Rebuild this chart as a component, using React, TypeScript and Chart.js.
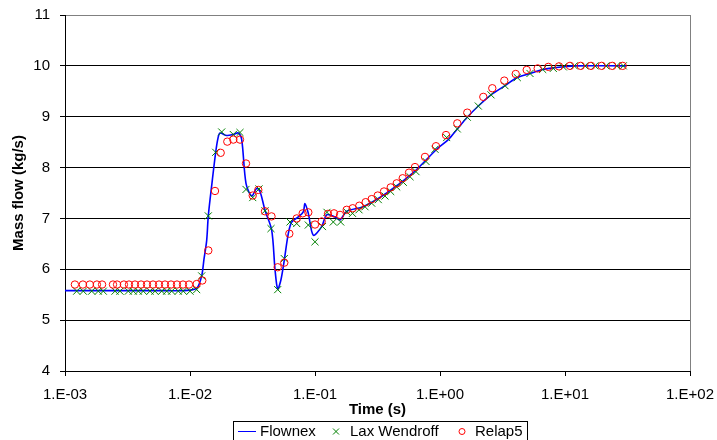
import React, { useEffect, useRef } from 'react';
import { Chart, registerables } from 'chart.js';

Chart.register(...registerables);

// ---- Data ----
const flownexTime = [
  0.001, 0.005, 0.009, 0.01, 0.01138, 0.0124, 0.01294, 0.0136, 0.01401, 0.015,
  0.01605, 0.01675, 0.01738, 0.01966, 0.0222, 0.02434, 0.02592, 0.02805, 0.03115, 0.03417,
  0.03631, 0.03981, 0.04503, 0.04786, 0.0503, 0.05346, 0.0568, 0.06114, 0.06511, 0.07353,
  0.08058, 0.08318, 0.0884, 0.09692, 0.1131, 0.124, 0.1445, 0.1585, 0.1794, 0.2434,
  0.3747, 0.6114, 0.941, 1.165, 1.375, 1.653, 2.025, 2.559, 3.311, 4.153,
  5.248, 6.63, 8.06, 9.69, 11.87, 30.76,
];
const flownexFlow = [
  5.58, 5.58, 5.58, 5.59, 5.63, 5.87, 6.2, 6.57, 7.05, 7.7,
  8.3, 8.58, 8.68, 8.63, 8.65, 8.68, 8.55, 7.69, 7.44, 7.59,
  7.53, 7.16, 6.77, 6.0, 5.61, 5.8, 6.18, 6.7, 6.93, 7.03,
  7.13, 7.29, 7.1, 6.67, 6.84, 7.07, 7.03, 6.97, 7.14, 7.23,
  7.5, 7.9, 8.36, 8.55, 8.76, 8.99, 9.21, 9.43, 9.61, 9.77,
  9.85, 9.93, 9.96, 9.98, 10.0, 10.0,
];

const laxTime = [
  0.00124, 0.001401, 0.001635, 0.001847, 0.002025, 0.002512, 0.002754, 0.003209, 0.003519, 0.003859,
  0.004231, 0.004786, 0.005248, 0.005937, 0.00651, 0.007138, 0.00806, 0.00884, 0.01, 0.01131,
  0.0124, 0.01401, 0.01605, 0.01793, 0.0222, 0.02512, 0.02805, 0.03175, 0.03565, 0.03981,
  0.04446, 0.0503, 0.0568, 0.0631, 0.0714, 0.0884, 0.1, 0.1148, 0.1247, 0.1401,
  0.1605, 0.1794, 0.1995, 0.2249, 0.2512, 0.2841, 0.3209, 0.3631, 0.4033, 0.4504,
  0.5086, 0.5754, 0.6427, 0.7727, 0.912, 1.131, 1.375, 1.653, 2.025, 2.559,
  3.311, 4.153, 5.248, 6.63, 8.06, 9.69, 11.87, 14.45, 17.38, 21.28,
  25.92, 29.27,
];
const laxFlow = [
  5.57, 5.57, 5.57, 5.57, 5.57, 5.57, 5.57, 5.57, 5.57, 5.57,
  5.57, 5.57, 5.57, 5.57, 5.57, 5.57, 5.57, 5.57, 5.57, 5.6,
  5.87, 7.05, 8.3, 8.7, 8.65, 8.69, 7.57, 7.41, 7.58, 7.15,
  6.8, 5.6, 6.21, 6.93, 6.9, 6.87, 6.54, 6.84, 7.12, 6.93,
  6.93, 7.13, 7.1, 7.17, 7.23, 7.3, 7.37, 7.44, 7.53, 7.62,
  7.71, 7.82, 7.92, 8.12, 8.36, 8.59, 8.76, 8.99, 9.21, 9.43,
  9.61, 9.77, 9.85, 9.93, 9.95, 9.98, 10.0, 10.0, 10.0, 10.0,
  10.0, 10.0,
];

const relapTime = [
  0.0012, 0.00139, 0.00158, 0.0018, 0.00198, 0.00242, 0.00261, 0.00296, 0.00325, 0.00363,
  0.00406, 0.00453, 0.00506, 0.00565, 0.00631, 0.00705, 0.00787, 0.00879, 0.00982, 0.01131,
  0.01254, 0.01401, 0.01585, 0.0176, 0.01988, 0.0222, 0.02512, 0.02805, 0.03175, 0.03519,
  0.03981, 0.04487, 0.0503, 0.0568, 0.0623, 0.0714, 0.0797, 0.0884, 0.1, 0.1131,
  0.127, 0.1419, 0.1585, 0.1794, 0.2003, 0.2262, 0.2544, 0.2841, 0.3174, 0.3565,
  0.4033, 0.4504, 0.503, 0.5649, 0.631, 0.7586, 0.929, 1.117, 1.375, 1.653,
  2.22, 2.62, 3.269, 4.033, 4.939, 6.047, 7.353, 8.954, 10.96, 13.36,
  16.14, 19.66, 23.89, 28.94,
];
const relapFlow = [
  5.7, 5.7, 5.7, 5.7, 5.7, 5.7, 5.7, 5.7, 5.7, 5.7,
  5.7, 5.7, 5.7, 5.7, 5.7, 5.7, 5.7, 5.7, 5.7, 5.71,
  5.78, 6.37, 7.54, 8.29, 8.51, 8.55, 8.55, 8.08, 7.45, 7.56,
  7.14, 7.04, 6.04, 6.13, 6.7, 7.0, 7.1, 7.12, 6.88, 6.94,
  7.09, 7.1, 7.07, 7.17, 7.2, 7.25, 7.32, 7.38, 7.45, 7.53,
  7.61, 7.69, 7.79, 7.9, 8.01, 8.21, 8.42, 8.64, 8.87, 9.08,
  9.39, 9.56, 9.71, 9.84, 9.92, 9.95, 9.98, 9.99, 10.0, 10.0,
  10.0, 10.0, 10.0, 10.0,
];

const xTickValues = [0.001, 0.01, 0.1, 1, 10, 100];
const xTickLabels = ['1.E-03', '1.E-02', '1.E-01', '1.E+00', '1.E+01', '1.E+02'];
const yMin = 4;
const yMax = 11;

const seriesNames = ['Flownex', 'Lax Wendroff', 'Relap5'];
const xTitle = 'Time (s)';
const yTitle = 'Mass flow (kg/s)';

const FONT = "'Liberation Sans', Arial, Helvetica, sans-serif";
const BLUE = '#0000FF';
const GREEN = '#008000';
const RED = '#FF0000';

const zip = (xs: number[], ys: number[]) => xs.map((x, i) => ({ x, y: ys[i] }));

const decorPlugin = {
  id: 'decor',
  afterDraw(chart: any) {
    const { ctx, chartArea } = chart;
    const { left, right, top, bottom } = chartArea;
    ctx.save();
    // right frame
    ctx.strokeStyle = '#808080';
    ctx.lineWidth = 1;
    ctx.beginPath();
    ctx.moveTo(Math.round(right) + 0.5, top);
    ctx.lineTo(Math.round(right) + 0.5, bottom);
    ctx.stroke();

    // axis titles
    ctx.fillStyle = '#000';
    ctx.font = `bold 15px ${FONT}`;
    ctx.textAlign = 'center';
    ctx.textBaseline = 'middle';
    ctx.fillText(xTitle, (left + right) / 2, 410);
    ctx.save();
    ctx.translate(19, (top + bottom) / 2);
    ctx.rotate(-Math.PI / 2);
    ctx.fillText(yTitle, 0, 0);
    ctx.restore();

    // legend
    const ly = 431.5;
    ctx.strokeStyle = '#000';
    ctx.lineWidth = 1;
    ctx.strokeRect(233.5, 421.5, 294, 30);
    ctx.font = `15px ${FONT}`;
    ctx.textAlign = 'left';
    ctx.textBaseline = 'middle';
    // Flownex line
    ctx.strokeStyle = BLUE;
    ctx.beginPath();
    ctx.moveTo(238, ly);
    ctx.lineTo(256, ly);
    ctx.stroke();
    ctx.fillStyle = '#000';
    ctx.fillText(seriesNames[0], 260, ly + 0.5);
    // Lax cross
    ctx.strokeStyle = GREEN;
    ctx.beginPath();
    ctx.moveTo(336 - 3, ly - 3);
    ctx.lineTo(336 + 3, ly + 3);
    ctx.moveTo(336 - 3, ly + 3);
    ctx.lineTo(336 + 3, ly - 3);
    ctx.stroke();
    ctx.fillText(seriesNames[1], 350, ly + 0.5);
    // Relap circle
    ctx.strokeStyle = RED;
    ctx.beginPath();
    ctx.arc(462, ly, 3, 0, Math.PI * 2);
    ctx.stroke();
    ctx.fillText(seriesNames[2], 475, ly + 0.5);
    ctx.restore();
  },
};

export default function App() {
  const ref = useRef<HTMLCanvasElement | null>(null);

  useEffect(() => {
    if (!ref.current) return;
    const chart = new Chart(ref.current, {
      type: 'scatter',
      data: {
        datasets: [
          {
            label: seriesNames[2],
            data: zip(relapTime, relapFlow),
            borderColor: RED,
            backgroundColor: 'rgba(0,0,0,0)',
            pointStyle: 'circle',
            pointRadius: 3.7,
            pointBorderWidth: 1,
            showLine: false,
            order: 0,
          },
          {
            label: seriesNames[1],
            data: zip(laxTime, laxFlow),
            borderColor: GREEN,
            backgroundColor: GREEN,
            pointStyle: 'crossRot',
            pointRadius: 5,
            pointBorderWidth: 1,
            showLine: false,
            order: 1,
          },
          {
            label: seriesNames[0],
            data: zip(flownexTime, flownexFlow),
            borderColor: BLUE,
            backgroundColor: BLUE,
            borderWidth: 1.6,
            pointRadius: 0,
            showLine: true,
            tension: 0.3,
            order: 2,
          },
        ] as any,
      },
      options: {
        animation: false,
        responsive: false,
        devicePixelRatio: 1,
        layout: { padding: { left: 0, right: 27, top: 15, bottom: 0 } },
        plugins: {
          legend: { display: false },
          tooltip: { enabled: false },
          title: { display: false },
        },
        scales: {
          x: {
            type: 'logarithmic',
            min: 0.001,
            max: 100,
            afterBuildTicks: (scale: any) => {
              scale.ticks = xTickValues.map((v) => ({ value: v }));
            },
            afterFit: (scale: any) => {
              scale.height = 69;
              scale.paddingLeft = 0;
              scale.paddingRight = 0;
              scale.paddingTop = 0;
              scale.paddingBottom = 0;
            },
            ticks: {
              autoSkip: false,
              maxRotation: 0,
              minRotation: 0,
              padding: 10,
              color: '#000',
              font: { family: FONT, size: 15 },
              callback: (_v: any, i: number) => xTickLabels[i],
            },
            grid: {
              drawOnChartArea: false,
              drawTicks: true,
              tickLength: 5,
              tickColor: '#000',
              color: '#000',
            },
            border: { display: true, color: '#000', width: 1 },
          },
          y: {
            type: 'linear',
            min: yMin,
            max: yMax,
            afterFit: (scale: any) => {
              scale.width = 65;
              scale.paddingLeft = 0;
              scale.paddingRight = 0;
              scale.paddingTop = 0;
              scale.paddingBottom = 0;
            },
            ticks: {
              stepSize: 1,
              padding: 10,
              color: '#000',
              font: { family: FONT, size: 15 },
            },
            grid: {
              drawOnChartArea: true,
              drawTicks: true,
              tickLength: 5,
              tickColor: '#000',
              color: (c: any) => (c.tick && c.tick.value === yMax ? '#808080' : '#000'),
              lineWidth: 1,
            },
            border: { display: true, color: '#000', width: 1 },
          },
        },
      } as any,
      plugins: [decorPlugin],
    });
    return () => chart.destroy();
  }, []);

  return (
    <div style={{ position: 'fixed', left: 0, top: 0, width: 717, height: 440, background: '#fff' }}>
      <canvas ref={ref} width={717} height={440} style={{ width: 717, height: 440, display: 'block' }} />
    </div>
  );
}
